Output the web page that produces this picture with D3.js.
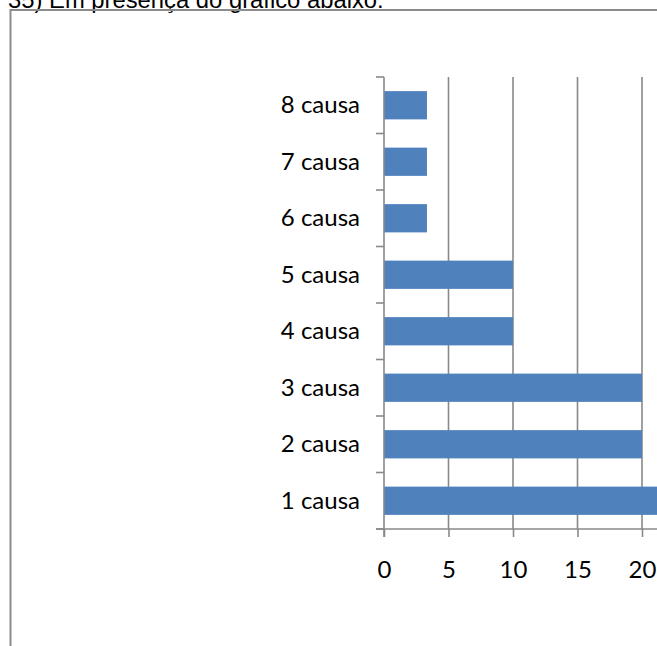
<!DOCTYPE html>
<html><head><meta charset="utf-8">
<script src="https://cdn.jsdelivr.net/npm/d3@7"></script>
<style>html,body{margin:0;padding:0;background:#fff;overflow:hidden}</style>
</head><body>
<script>
const titleText = "35) Em presença do gráfico abaixo:";
const categories = ["1 causa","2 causa","3 causa","4 causa","5 causa","6 causa","7 causa","8 causa"];
const values = [30, 20, 20, 10, 10, 3.33, 3.33, 3.33];
const xTicks = [0, 5, 10, 15, 20, 25, 30];

const W = 657, H = 646;
const svg = d3.select("body").append("svg").attr("width", W).attr("height", H);

// title (clipped at top)
svg.append("text").attr("x", 8).attr("y", 7.5)
  .attr("font-family", "'Liberation Sans', Arial, sans-serif").attr("font-size", 23.8)
  .attr("fill", "#000").text(titleText);

// frame
svg.append("rect").attr("x", 10.5).attr("y", 10).attr("width", 700).attr("height", 700)
  .attr("fill", "none").attr("stroke", "#8c8c8c").attr("stroke-width", 2);

const x = d3.scaleLinear().domain([0, 30]).range([384, 384 + 30 * 12.9]);
const y = d3.scaleBand().domain(categories.slice().reverse()).range([77, 529])
  .paddingInner(0.5).paddingOuter(0.25);

const gridColor = "#898989";
const font = "Lato, 'Open Sans', sans-serif";

// gridlines
svg.append("g").selectAll("line").data(xTicks.filter(t => t > 0)).join("line")
  .attr("x1", d => x(d)).attr("x2", d => x(d))
  .attr("y1", 77).attr("y2", 529)
  .attr("stroke", gridColor).attr("stroke-width", 1.6);

// bars
svg.append("g").selectAll("rect").data(categories).join("rect")
  .attr("x", x(0)).attr("y", d => y(d))
  .attr("width", (d, i) => x(values[i]) - x(0))
  .attr("height", y.bandwidth())
  .attr("fill", "#4f81bd");

// x axis
const xAxis = svg.append("g").attr("transform", "translate(0,529)")
  .call(d3.axisBottom(x).tickValues(xTicks).tickSize(8).tickPadding(24).tickSizeOuter(0));
xAxis.select(".domain").attr("stroke", gridColor).attr("stroke-width", 1.6)
  .attr("d", `M376,0H${W + 10}`);
xAxis.selectAll(".tick line").attr("stroke", gridColor).attr("stroke-width", 1.6);
xAxis.selectAll(".tick text").attr("font-family", font).attr("font-size", 24).attr("fill", "#000");

// y axis
const [y0, y1] = y.range();
const step = y.step();
const boundaries = d3.range(categories.length + 1).map(i => y0 + y.paddingOuter() * step - y.paddingInner() * step / 2 + i * step);
svg.append("line").attr("x1", x(0)).attr("x2", x(0)).attr("y1", y0).attr("y2", y1 + 8)
  .attr("stroke", gridColor).attr("stroke-width", 1.6);
svg.append("g").selectAll("line").data(boundaries).join("line")
  .attr("x1", x(0) - 8).attr("x2", x(0)).attr("y1", d => d).attr("y2", d => d)
  .attr("stroke", gridColor).attr("stroke-width", 1.6);
svg.append("g").selectAll("text").data(categories).join("text")
  .attr("x", 360).attr("y", d => y(d) + y.bandwidth() / 2 + 8)
  .attr("text-anchor", "end")
  .attr("font-family", font).attr("font-size", 24).attr("fill", "#000")
  .text(d => d);
</script>
</body></html>
